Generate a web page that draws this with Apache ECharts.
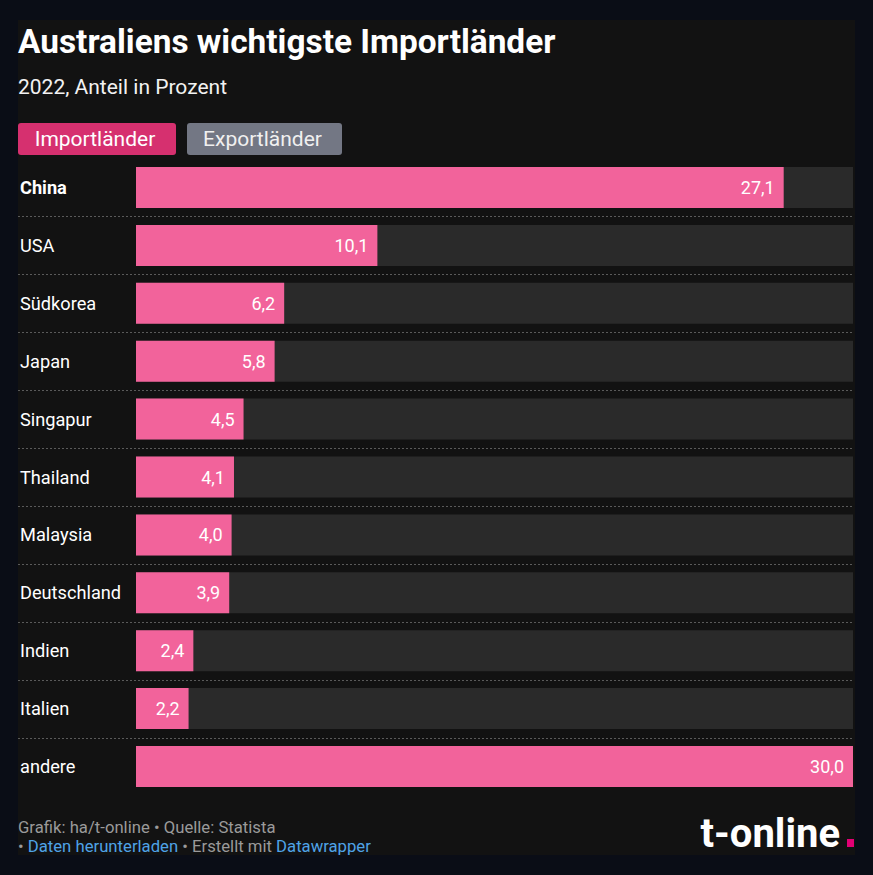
<!DOCTYPE html>
<html>
<head>
<meta charset="utf-8">
<script src="https://cdn.jsdelivr.net/npm/echarts@6/dist/echarts.min.js"></script>
<style>
  html, body { margin: 0; padding: 0; background: #0a0d16; }
  #chart { width: 873px; height: 875px; }
</style>
</head>
<body>
<div id="chart"></div>
<script>
// Australiens wichtigste Importländer 2022 (Anteil in Prozent)
const countries = ['China', 'USA', 'Südkorea', 'Japan', 'Singapur', 'Thailand', 'Malaysia', 'Deutschland', 'Indien', 'Italien', 'andere'];
const shares = [27.1, 10.1, 6.2, 5.8, 4.5, 4.1, 4.0, 3.9, 2.4, 2.2, 30.0];
const axisMax = 30;

const FONT = 'Roboto, "Noto Sans", sans-serif';
const PINK = '#f2639b';

const chart = echarts.init(document.getElementById('chart'), null, { renderer: 'svg' });

const staticGraphics = [
  // panel
  { type: 'rect', z: -10, shape: { x: 18, y: 20, width: 837, height: 835 }, style: { fill: '#121212' } },
  // headline + subtitle
  { type: 'text', x: 18, y: 41, style: { text: 'Australiens wichtigste Importländer', fill: '#ffffff', font: 'bold 33.4px ' + FONT, textVerticalAlign: 'middle' } },
  { type: 'text', x: 18, y: 87, style: { text: '2022, Anteil in Prozent', fill: '#f2f2f2', font: '21px ' + FONT, textVerticalAlign: 'middle' } },
  // toggle buttons
  { type: 'rect', shape: { x: 18, y: 123, width: 158, height: 32, r: 3 }, style: { fill: '#d6306f' } },
  { type: 'text', x: 95, y: 139, style: { text: 'Importländer', fill: '#ffffff', font: '21px ' + FONT, textAlign: 'center', textVerticalAlign: 'middle' } },
  { type: 'rect', shape: { x: 187, y: 123, width: 155, height: 32, r: 3 }, style: { fill: '#737784' } },
  { type: 'text', x: 262.5, y: 139, style: { text: 'Exportländer', fill: '#f0f0f0', font: '21px ' + FONT, textAlign: 'center', textVerticalAlign: 'middle' } },
  // footer
  { type: 'text', x: 18, y: 827, style: { text: 'Grafik: ha/t-online • Quelle: Statista', fill: '#9a9a9a', font: '16.7px ' + FONT, textVerticalAlign: 'middle' } },
  { type: 'text', x: 18, y: 846, style: {
      text: '{g|• }{l|Daten herunterladen}{g| • Erstellt mit }{l|Datawrapper}',
      textVerticalAlign: 'middle',
      rich: {
        g: { fill: '#9a9a9a', font: '16.7px ' + FONT },
        l: { fill: '#4fa3e6', font: '16.7px ' + FONT }
      }
  } },
  // logo
  { type: 'text', x: 840, y: 833, style: { text: 't-online', fill: '#ffffff', font: 'bold 40px ' + FONT, textAlign: 'right', textVerticalAlign: 'middle' } },
  { type: 'rect', shape: { x: 847, y: 839, width: 7, height: 8 }, style: { fill: '#e20074' } }
];

chart.setOption({
  backgroundColor: '#0a0d16',
  animation: false,
  grid: { left: 136, right: 20, top: 158.6, bottom: 79.6, containLabel: false },
  xAxis: {
    type: 'value', min: 0, max: axisMax,
    show: false
  },
  yAxis: {
    type: 'category', data: countries, inverse: true,
    axisLine: { show: false }, axisTick: { show: false }, splitLine: { show: false },
    axisLabel: {
      margin: 116, align: 'left', color: '#ffffff', fontFamily: FONT, fontSize: 18.2,
      formatter: v => v === 'China' ? '{b|' + v + '}' : v,
      rich: { b: { fontWeight: 'bold', color: '#ffffff', fontFamily: FONT, fontSize: 18.2 } }
    }
  },
  series: [{
    type: 'bar',
    data: shares,
    barWidth: 41,
    itemStyle: { color: PINK },
    showBackground: true,
    backgroundStyle: { color: '#2a2a2a' },
    label: {
      show: true, position: 'insideRight', distance: 9,
      color: '#ffffff', fontFamily: FONT, fontSize: 18,
      formatter: p => p.value.toFixed(1).replace('.', ',')
    }
  }],
  graphic: staticGraphics
});

// dotted separators between rows, spanning from the panel edge to the bar end
const xEnd = chart.convertToPixel({ xAxisIndex: 0 }, axisMax);
const separators = [];
for (let i = 0; i < countries.length - 1; i++) {
  const y0 = chart.convertToPixel({ yAxisIndex: 0 }, i);
  const y1 = chart.convertToPixel({ yAxisIndex: 0 }, i + 1);
  const y = Math.round((y0 + y1) / 2) + 0.5;
  separators.push({
    type: 'line', shape: { x1: 18, y1: y, x2: xEnd, y2: y },
    style: { stroke: '#5a5a5a', lineWidth: 1, lineDash: [2, 2] }
  });
}
chart.setOption({ graphic: staticGraphics.concat(separators) }, { replaceMerge: ['graphic'] });
</script>
</body>
</html>
